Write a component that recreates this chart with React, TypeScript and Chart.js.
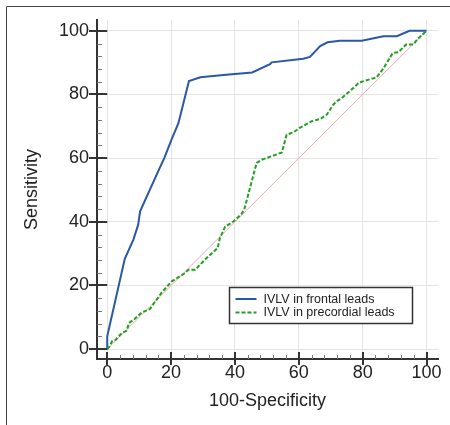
import React, { useEffect, useRef } from "react";
import { Chart, registerables } from "chart.js";

Chart.register(...registerables);

// ---- data ----
const FRONTAL_FPR = [0, 0, 5.5, 8.2, 9.7, 10.3, 16.2, 17.9, 20.2, 22.3, 25.6, 29.2, 36.4, 45.4, 51, 51.5, 61.4, 63.5, 66.7, 69, 72.9, 79.7, 86.5, 90.7, 94.7, 100];
const FRONTAL_SENS = [0, 4, 28.4, 34.4, 39.1, 43.3, 56.4, 60.1, 66, 71, 84.2, 85.4, 86.1, 86.9, 89.5, 90.1, 91.2, 91.8, 95.2, 96.4, 96.9, 96.9, 98.3, 98.3, 100, 100];

const PRECORDIAL_FPR = [0, 0.8, 1.6, 2.6, 4.5, 6.1, 6.8, 8.5, 10.8, 13.4, 14.7, 17.1, 20.2, 24.4, 25.4, 27.5, 30.6, 34.6, 35.3, 36.9, 39.5, 42.1, 42.9, 46.8, 48.4, 51.5, 54.7, 56.2, 58.3, 60.4, 64.1, 66.7, 68.8, 70.8, 71.9, 73.5, 77.6, 78.6, 79.7, 84.4, 86.5, 89.4, 91.2, 93.6, 95.8, 97.3, 100];
const PRECORDIAL_SENS = [0, 1, 2.6, 2.9, 5, 5.8, 8.2, 9.4, 11.5, 12.6, 14.5, 17.8, 21.3, 23.9, 24.9, 24.9, 28.1, 31.8, 34.9, 38.4, 40.1, 42.5, 43.8, 58.5, 59.5, 60.6, 61.8, 67.4, 68.1, 69.6, 71.6, 72.3, 73.7, 76.8, 77.9, 78.9, 82.5, 83.5, 84, 85.4, 88.2, 93, 93.3, 95.7, 95.7, 97.5, 100];

const DIAGONAL = [0, 100];
const MAJOR_TICKS = [0, 20, 40, 60, 80, 100];
const SERIES_LABELS = ["IVLV in frontal leads", "IVLV in precordial leads"];
const X_TITLE = "100-Specificity";
const Y_TITLE = "Sensitivity";

const FONT = "'Liberation Sans', Arial, sans-serif";

const toPoints = (xs: number[], ys: number[]) => xs.map((x, i) => ({ x, y: ys[i] }));

const decorPlugin = {
  id: "decor",
  beforeDraw(chart: any) {
    const ctx = chart.ctx;
    ctx.save();
    ctx.fillStyle = "#ffffff";
    ctx.fillRect(0, 0, chart.width, chart.height);
    ctx.strokeStyle = "#444";
    ctx.lineWidth = 1;
    ctx.beginPath();
    ctx.moveTo(6.5, chart.height);
    ctx.lineTo(6.5, 6.5);
    ctx.lineTo(chart.width, 6.5);
    ctx.stroke();
    ctx.restore();
  },
  afterDraw(chart: any) {
    const ctx = chart.ctx;
    const xs = chart.scales.x;
    const ys = chart.scales.y;
    const { left, bottom } = chart.chartArea;
    const seg = (x1: number, y1: number, x2: number, y2: number) => {
      ctx.beginPath();
      ctx.moveTo(x1, y1);
      ctx.lineTo(x2, y2);
      ctx.stroke();
    };
    ctx.save();
    // minor ticks
    ctx.strokeStyle = "#777";
    ctx.lineWidth = 1;
    for (let v = 0; v <= 100; v += 4) {
      if (v % 20 === 0) continue;
      const py = Math.round(ys.getPixelForValue(v)) + 0.5;
      seg(left, py, left + 5, py);
      const px = Math.round(xs.getPixelForValue(v)) + 0.5;
      seg(px, bottom, px, bottom - 4);
    }
    // major ticks
    ctx.strokeStyle = "#333";
    ctx.lineWidth = 2;
    MAJOR_TICKS.forEach((v) => {
      const py = Math.round(ys.getPixelForValue(v));
      seg(left - 8, py, xs.getPixelForValue(0), py);
      const px = Math.round(xs.getPixelForValue(v));
      seg(px, bottom + 6, px, bottom - 7);
    });

    // legend box
    const bx0 = Math.round(xs.getPixelForValue(38.2)) + 0.5;
    const bx1 = Math.round(xs.getPixelForValue(95.6)) + 0.5;
    const by0 = Math.round(ys.getPixelForValue(19.6)) + 0.5;
    const by1 = Math.round(ys.getPixelForValue(8.3)) + 0.5;
    ctx.fillStyle = "#fff";
    ctx.fillRect(bx0, by0, bx1 - bx0, by1 - by0);
    ctx.strokeStyle = "#333";
    ctx.lineWidth = 1.5;
    ctx.strokeRect(bx0, by0, bx1 - bx0, by1 - by0);
    const datasets = chart.data.datasets;
    ctx.font = `12.5px ${FONT}`;
    ctx.textBaseline = "middle";
    ctx.textAlign = "left";
    SERIES_LABELS.forEach((label, i) => {
      const ds = datasets[i];
      const ly = by0 + 11.5 + i * 13.4;
      ctx.strokeStyle = ds.borderColor;
      ctx.lineWidth = 2;
      ctx.setLineDash(ds.borderDash || []);
      seg(bx0 + 6, ly, bx0 + 27, ly);
      ctx.setLineDash([]);
      ctx.fillStyle = "#222";
      ctx.fillText(label, bx0 + 34, ly + 0.5);
    });
    ctx.restore();
  },
};

export default function App() {
  const ref = useRef<HTMLCanvasElement>(null);

  useEffect(() => {
    if (!ref.current) return;
    const chart = new Chart(ref.current, {
      type: "line",
      data: {
        datasets: [
          {
            label: SERIES_LABELS[0],
            data: toPoints(FRONTAL_FPR, FRONTAL_SENS),
            borderColor: "#2a57a6",
            borderWidth: 2,
            pointRadius: 0,
            tension: 0,
            order: 2,
          },
          {
            label: SERIES_LABELS[1],
            data: toPoints(PRECORDIAL_FPR, PRECORDIAL_SENS),
            borderColor: "#22a022",
            borderWidth: 2,
            borderDash: [4, 2],
            pointRadius: 0,
            tension: 0,
            order: 1,
          },
          {
            label: "reference",
            data: toPoints(DIAGONAL, DIAGONAL),
            borderColor: "#f0a8a8",
            borderWidth: 1,
            pointRadius: 0,
            tension: 0,
            order: 3,
          },
        ],
      },
      options: {
        responsive: false,
        animation: false,
        events: [],
        layout: { padding: { left: 0, top: 20, right: 12, bottom: 0 } },
        plugins: { legend: { display: false }, tooltip: { enabled: false } },
        scales: {
          x: {
            type: "linear",
            min: -3.2,
            max: 103.6,
            afterFit: (s: any) => {
              s.height = 66;
            },
            ticks: {
              includeBounds: false,
              stepSize: 20,
              padding: 3,
              color: "#222",
              font: { family: FONT, size: 18 },
              maxRotation: 0,
            },
            grid: { color: "#e4e4e4", lineWidth: 1, drawTicks: false },
            border: { color: "#333", width: 2 },
            title: {
              display: true,
              text: X_TITLE,
              color: "#222",
              font: { family: FONT, size: 18 },
              padding: { top: 0, bottom: 13 },
            },
          },
          y: {
            type: "linear",
            min: -3.1,
            max: 103.4,
            afterFit: (s: any) => {
              s.width = 97;
            },
            ticks: {
              includeBounds: false,
              stepSize: 20,
              padding: 8,
              color: "#222",
              font: { family: FONT, size: 18 },
            },
            grid: { color: "#e4e4e4", lineWidth: 1, drawTicks: false },
            border: { color: "#333", width: 2 },
            title: {
              display: true,
              text: Y_TITLE,
              color: "#222",
              font: { family: FONT, size: 18 },
              padding: { top: 21, bottom: 0 },
            },
          },
        },
      },
      plugins: [decorPlugin],
    } as any);
    return () => chart.destroy();
  }, []);

  return (
    <div style={{ position: "absolute", left: 0, top: 0, width: 450, height: 425 }}>
      <canvas ref={ref} width={450} height={425} />
    </div>
  );
}
